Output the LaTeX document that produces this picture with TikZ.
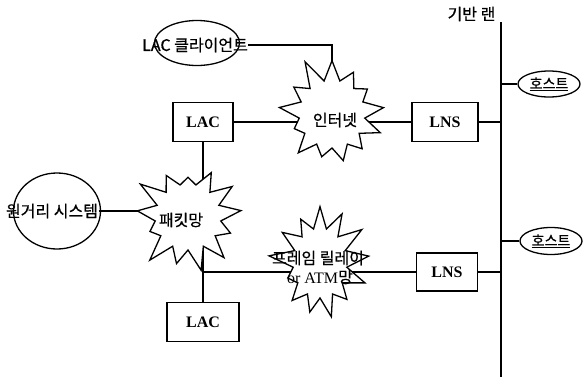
\documentclass[tikz,border=0pt]{standalone}
\usepackage{fontspec}
\setmainfont{Liberation Serif}
\newfontfamily\kr{Noto Sans CJK KR}[FakeBold=0.7]
\usetikzlibrary{shapes.symbols,shapes.geometric,backgrounds}
\begin{document}
\begin{tikzpicture}[x=1pt,y=-1pt,
 line width=1.3pt,
 box/.style={draw,rectangle,line width=1.3pt,inner sep=0pt,font=\bfseries\fontsize{16}{18}\selectfont},
 burst/.style={draw,starburst,fill=white,line width=1.3pt,starburst points=13,starburst point height=26pt,inner sep=0pt},
 oval/.style={draw,ellipse,line width=1.3pt,inner sep=0pt},
 lbl/.style={font=\kr\fontsize{16}{18}\selectfont,inner sep=0pt},
 hostlbl/.style={font=\kr\fontsize{14}{16}\selectfont},
 wire/.style={line width=1.3pt},
 busline/.style={line width=2.8pt}]
\useasboundingbox (0,0) rectangle (584,378);
% boxes
\node[box,minimum width=60pt,minimum height=39pt] (lac1) at (203,122) {LAC};
\node[box,minimum width=66pt,minimum height=39pt] (lns1) at (445,122) {LNS};
\node[box,minimum width=61pt,minimum height=38pt] (lns2) at (447,272) {LNS};
\node[box,minimum width=72pt,minimum height=39pt] (lac2) at (203,322) {LAC};
% starbursts
\node[burst,minimum width=118pt,minimum height=120pt,random starburst=11] (inet) at (332,114) {};
\node[lbl] (inettext) at (335,120) {인터넷};
\node[burst,minimum width=118pt,minimum height=118pt,random starburst=23] (pkt) at (188,217) {};
\node[lbl] (pkttext) at (181,220) {패킷망};
\node[burst,minimum width=106pt,minimum height=122pt,random starburst=37] (fr) at (320,263) {};
\node[lbl] (frtext1) at (318,258) {프레임 릴레이};
\node[lbl] (frtext2) at (320,277) {{\rmfamily or ATM}망};
% ellipses
\node[oval,minimum width=85pt,minimum height=45pt] (client) at (197,43) {};
\node[lbl] (clienttext) at (195,45) {LAC 클라이언트};
\node[oval,minimum width=87pt,minimum height=76pt] (remote) at (57,211) {};
\node[lbl] (remotetext) at (52,211) {원거리 시스템};
\node[oval,hostlbl,minimum width=62pt,minimum height=26pt] (host1) at (549,84) {\underline{호스트}};
\node[oval,hostlbl,minimum width=62pt,minimum height=27pt] (host2) at (551,241) {\underline{호스트}};
% backbone LAN
\coordinate (bustop) at (501,22);
\coordinate (busbot) at (501,377);
\draw[busline] (bustop) -- (busbot);
\node[lbl,anchor=east] (lanlabel) at (496,14) {기반 랜};
% connectors
\begin{scope}[on background layer]
\draw[wire] (clienttext.east) -| (inet.center);
\draw[wire] (lac1.east) -- (lac1.east -| inet.center);
\draw[wire] (inet.center |- lns1.west) -- (lns1.west);
\draw[wire] (lns1.east) -- (lns1.east -| bustop);
\draw[wire] (host1.west) -- (host1.west -| bustop);
\draw[wire] (host2.west) -- (host2.west -| bustop);
\draw[wire] (lns2.east) -- (lns2.east -| bustop);
\draw[wire] (lac2.north |- lns2.west) -- (lns2.west);
\draw[wire] (lac1.south) -- (lac2.north);
\draw[wire] (remotetext.east) -- (remotetext.east -| pkt.center);
\end{scope}
\end{tikzpicture}
\end{document}
